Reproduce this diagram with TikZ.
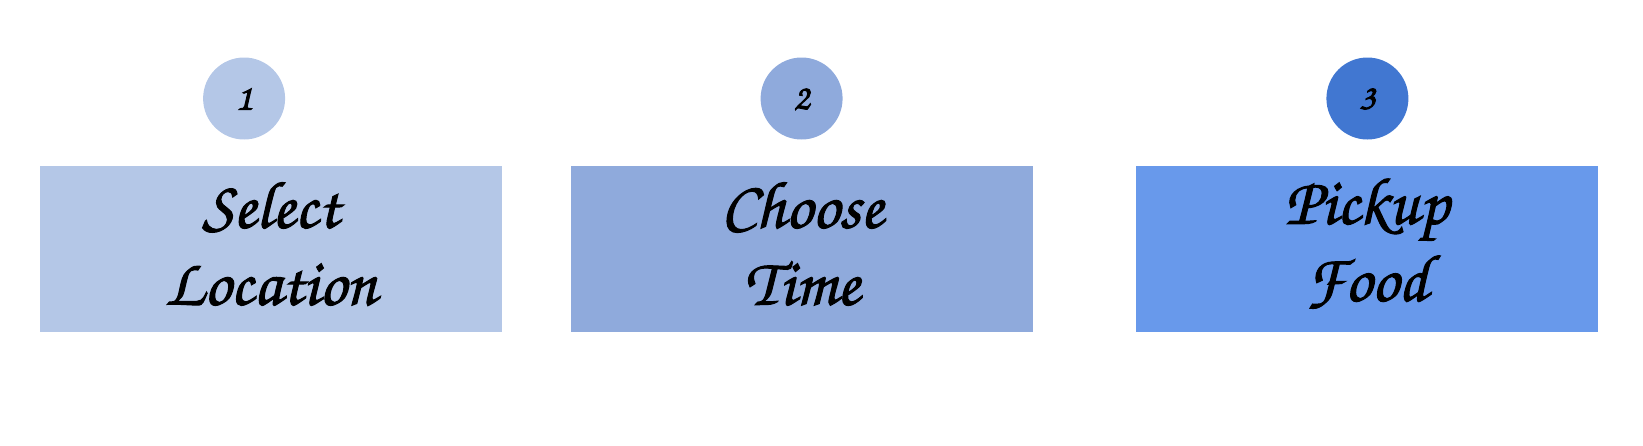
\documentclass[tikz,border=0pt]{standalone}
\usepackage[T1]{fontenc}
\newcommand{\chancery}{\fontencoding{T1}\fontfamily{pzc}\fontseries{mb}\fontshape{it}\selectfont}
\newcommand{\heavy}[1]{\special{pdf:literal direct 2 Tr 1.0 w}#1\special{pdf:literal direct 0 Tr 1 w}}
\definecolor{cA}{HTML}{B4C7E7}
\definecolor{cB}{HTML}{8FAADC}
\definecolor{cC}{HTML}{6899EB}
\definecolor{cD}{HTML}{4177D1}
\begin{document}
\begin{tikzpicture}[x=1pt,y=-1pt,
  stepbox/.style={draw=none,minimum width=462pt,minimum height=166.6pt,inner sep=0pt,
    align=center,font=\chancery\fontsize{67}{77}\selectfont},
  badge/.style={circle,draw=none,minimum size=82pt,inner sep=0pt,
    font=\chancery\fontsize{36}{36}\selectfont}]
\useasboundingbox (0,0) rectangle (1643,445);
\node[stepbox,fill=cA] (b1) at (270.8,248.9) {};
\node[stepbox,fill=cB] (b2) at (802.1,248.9) {};
\node[stepbox,fill=cC] (b3) at (1366.8,248.9) {};
\node[stepbox,anchor=center] (t1) at ([yshift=6pt]b1.center) {\heavy{Select}\\\heavy{Location}};
\node[stepbox,anchor=center] (t2) at ([yshift=6pt]b2.center) {\heavy{Choose}\\\heavy{Time}};
\node[stepbox,anchor=center] (t3) at ([yshift=6pt]b3.center) {\heavy{Pickup}\\\heavy{Food}};
\node[badge,fill=cA] (n1) at (244.1,98.5) {\heavy{1}};
\node[badge,fill=cB] (n2) at (801.6,98.5) {\heavy{2}};
\node[badge,fill=cD] (n3) at (1367.4,98.5) {\heavy{3}};
\end{tikzpicture}
\end{document}
